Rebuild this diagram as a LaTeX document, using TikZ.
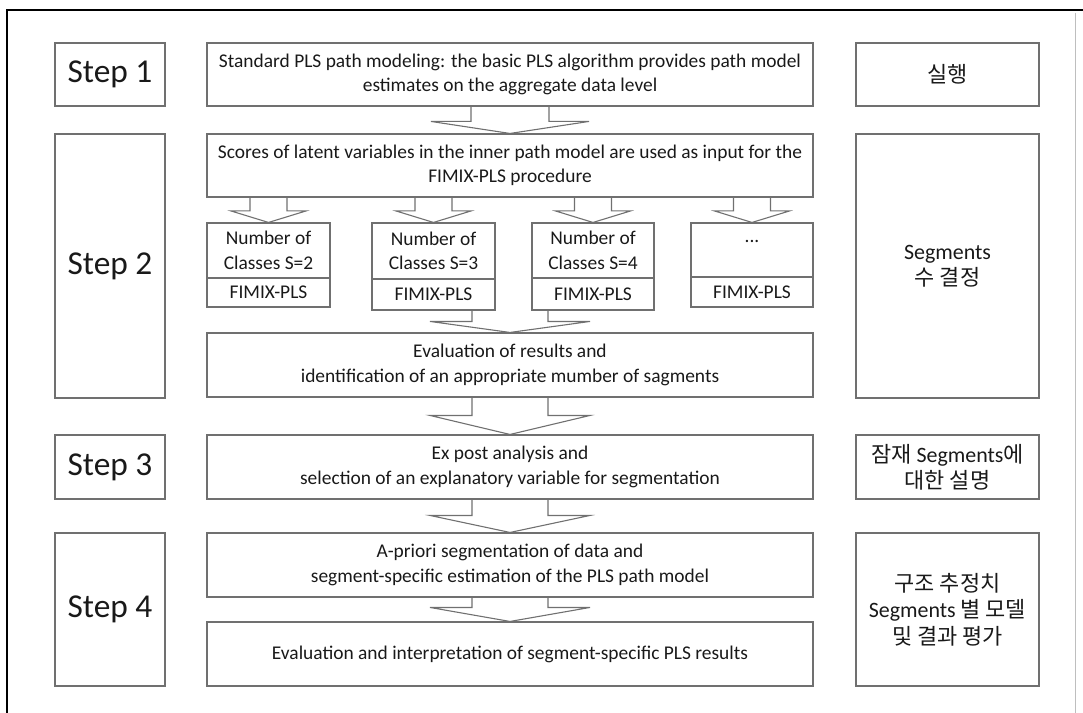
\documentclass[tikz,border=0pt]{standalone}
\usepackage{fontspec}
\setmainfont{Carlito}
\newfontfamily\kr{Noto Sans CJK KR}
\usetikzlibrary{calc}
\definecolor{boxline}{RGB}{112,112,112}
\definecolor{ink}{RGB}{25,25,25}
\definecolor{rule}{RGB}{190,190,190}

% \bx{name}{style}{left}{top}{right}{bottom}{text}
\newcommand\bx[7]{%
  \node[#2, minimum width={#5bp-#3bp}, minimum height={#6bp-#4bp}]
    (#1) at ({(#3+#5)/2},{(#4+#6)/2}) {#7};}

% \blkarr{from}{to}{shaft half width}{head half width}{head height}
\newcommand\blkarr[5]{%
  \draw[blk] let \p1=(#1.south), \p2=(#2.north) in
    (\x2-#3bp,\y1) -- (\x2-#3bp,\y2+#5bp) -- (\x2-#4bp,\y2+#5bp) -- (\x2,\y2)
    -- (\x2+#4bp,\y2+#5bp) -- (\x2+#3bp,\y2+#5bp) -- (\x2+#3bp,\y1);}

\begin{document}
\begin{tikzpicture}[x=1bp,y=-1bp,
  box/.style={draw=boxline, line width=1.1bp, text=ink, inner sep=0pt,
    align=center, font=\fontsize{19.5}{24.5}\selectfont},
  stepbox/.style={box, font=\fontsize{33.5}{40}\selectfont},
  notebox/.style={box, font=\fontsize{22}{26.5}\selectfont},
  blk/.style={draw=boxline, line width=1.1bp, line join=miter}]

\useasboundingbox (0,0) rectangle (1083,713);

% page frame
\draw[black, line width=1.3bp] (7,713) -- (7,10) -- (1083,10);
\draw[rule, line width=1bp] (1075,13) -- (1075,713);

% step labels
\bx{s1}{stepbox}{55}{43}{165}{106}{Step 1}
\bx{s2}{stepbox}{55}{134}{165}{398}{Step 2}
\bx{s3}{stepbox}{55}{435}{165}{499}{Step 3}
\bx{s4}{stepbox}{55}{533}{165}{686}{Step 4}

% main procedure
\bx{m1}{box}{207}{43}{813}{106}{Standard PLS path modeling: the basic PLS algorithm provides path model\\estimates on the aggregate data level}
\bx{m2}{box}{207}{134}{813}{197}{Scores of latent variables in the inner path model are used as input for the\\FIMIX-PLS procedure}

\bx{a1}{box}{207}{223}{330}{278}{Number of\\Classes S=2}
\bx{a2}{box}{207}{278}{330}{307}{FIMIX-PLS}
\bx{b1}{box}{372}{223}{495}{279}{Number of\\Classes S=3}
\bx{b2}{box}{372}{279}{495}{310}{FIMIX-PLS}
\bx{c1}{box}{532}{223}{654}{278}{Number of\\Classes S=4}
\bx{c2}{box}{532}{278}{654}{310}{FIMIX-PLS}
\bx{d1}{box}{691}{223}{813}{277}{\smash{\raisebox{8pt}{...}}}
\bx{d2}{box}{691}{277}{813}{307}{FIMIX-PLS}

\bx{m3}{box}{207}{333}{813}{397}{Evaluation of results and\\identification of an appropriate mumber of sagments}
\bx{m4}{box}{207}{435}{813}{499}{Ex post analysis and\\selection of an explanatory variable for segmentation}
\bx{m5}{box}{207}{533}{813}{597}{A-priori segmentation of data and\\segment-specific estimation of the PLS path model}
\bx{m6}{box}{207}{622}{813}{686}{Evaluation and interpretation of segment-specific PLS results}

% notes
\bx{r1}{notebox}{856}{43}{1039}{106}{{\kr 실행}}
\bx{r2}{notebox}{856}{134}{1039}{398}{Segments\\{\kr 수 결정}}
\bx{r3}{notebox}{856}{435}{1039}{499}{{\kr 잠재} Segments{\kr 에}\\{\kr 대한 설명}}
\bx{r4}{notebox}{856}{533}{1039}{686}{{\kr 구조 추정치}\\Segments {\kr 별 모델}\\{\kr 및 결과 평가}}

% block arrows
\blkarr{m1}{m2}{39}{79}{12}
\blkarr{m2}{a1}{18.5}{37.5}{11.5}
\blkarr{m2}{b1}{18.5}{37.5}{11.5}
\blkarr{m2}{c1}{18.5}{37.5}{11.5}
\blkarr{m2}{d1}{18.5}{37.5}{11.5}
\blkarr{c2}{m3}{38}{80}{11}
\blkarr{m3}{m4}{38}{80}{19}
\blkarr{m4}{m5}{38}{80}{17}
\blkarr{m5}{m6}{38}{80}{14}
\end{tikzpicture}
\end{document}
